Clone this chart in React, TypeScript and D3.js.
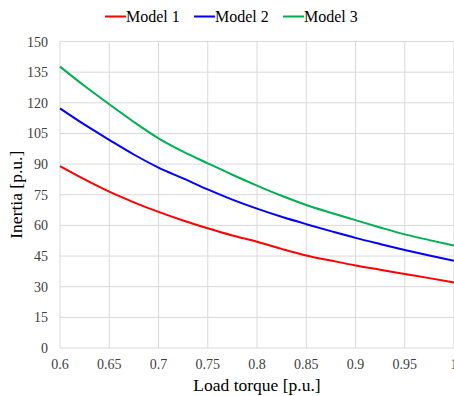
import React, { useEffect, useRef } from "react";
import * as d3 from "d3";

// Data
const loadTorque = [
    0.6, 0.625, 0.65, 0.675, 0.7, 0.725, 0.75, 0.775, 0.8,
    0.825, 0.85, 0.875, 0.9, 0.925, 0.95, 0.975, 1.0,
];
const model1 = [89, 82.5, 76.5, 71.3, 66.6, 62.4, 58.6, 55.1, 52, 48.5, 45.3, 42.8, 40.4, 38.3, 36.2, 34.2, 32.1];
const model2 = [117.3, 109.3, 101.9, 94.7, 88.3, 83, 77.6, 72.6, 68.2, 64.2, 60.6, 57.2, 53.9, 50.9, 48, 45.3, 42.7];
const model3 = [137.7, 128.2, 119.3, 110.6, 102.6, 96.1, 90.4, 84.8, 79.5, 74.5, 70, 66.2, 62.6, 59, 55.6, 52.8, 50.1];

const seriesNames = ["Model 1", "Model 2", "Model 3"];
const seriesColors = ["#ff0000", "#0000ff", "#00b050"];
const xTicks = [0.6, 0.65, 0.7, 0.75, 0.8, 0.85, 0.9, 0.95, 1];
const yTicks = [0, 15, 30, 45, 60, 75, 90, 105, 120, 135, 150];

const width = 454;
const height = 396;
const font = "Liberation Serif, DejaVu Serif, serif";

export default function App() {
    const svgRef = useRef<SVGSVGElement | null>(null);

    useEffect(() => {
        const margin = { top: 41.5, right: 0, bottom: 48, left: 60 };
        const svg = d3.select(svgRef.current);
        svg.selectAll("*").remove();

        const x = d3.scaleLinear().domain([0.6, 1]).range([margin.left, width - margin.right]);
        const y = d3.scaleLinear().domain([0, 150]).range([height - margin.bottom, margin.top]);

        // grid
        const grid = svg.append("g");
        grid.selectAll("line.v")
            .data(xTicks)
            .join("line")
            .attr("x1", (d) => x(d))
            .attr("x2", (d) => x(d))
            .attr("y1", y(0))
            .attr("y2", y(150))
            .attr("stroke", "#d9d9d9")
            .attr("stroke-width", 1);
        grid.selectAll("line.h")
            .data(yTicks)
            .join("line")
            .attr("x1", x(0.6))
            .attr("x2", x(1))
            .attr("y1", (d) => y(d))
            .attr("y2", (d) => y(d))
            .attr("stroke", "#d9d9d9")
            .attr("stroke-width", 1);

        // tick labels
        svg.append("g")
            .selectAll("text")
            .data(xTicks)
            .join("text")
            .attr("x", (d) => x(d))
            .attr("y", 369)
            .attr("text-anchor", "middle")
            .style("font-family", font)
            .style("font-size", "14px")
            .attr("fill", "#404040")
            .text((d) => String(d));

        svg.append("g")
            .selectAll("text")
            .data(yTicks)
            .join("text")
            .attr("x", 48)
            .attr("y", (d) => y(d) + 5)
            .attr("text-anchor", "end")
            .style("font-family", font)
            .style("font-size", "14px")
            .attr("fill", "#404040")
            .text((d) => String(d));

        // axis titles
        svg.append("text")
            .attr("x", (x(0.6) + x(1)) / 2)
            .attr("y", 391)
            .attr("text-anchor", "middle")
            .style("font-family", font)
            .style("font-size", "17.5px")
            .attr("fill", "#000")
            .text("Load torque [p.u.]");

        svg.append("text")
            .attr("transform", `translate(22,${(y(0) + y(150)) / 2}) rotate(-90)`)
            .attr("text-anchor", "middle")
            .style("font-family", font)
            .style("font-size", "17.5px")
            .attr("fill", "#000")
            .text("Inertia [p.u.]");

        // lines
        const allSeries = [model1, model2, model3];
        const line = d3.line<number>()
            .x((_, i) => x(loadTorque[i]))
            .y((d) => y(d))
            .curve(d3.curveMonotoneX);

        allSeries.forEach((s, i) => {
            svg.append("path")
                .datum(s)
                .attr("fill", "none")
                .attr("stroke", seriesColors[i])
                .attr("stroke-width", 2)
                .attr("d", line);
        });

        // legend
        const legendX = [105, 194, 283];
        const legend = svg.append("g");
        seriesNames.forEach((name, i) => {
            legend.append("line")
                .attr("x1", legendX[i])
                .attr("x2", legendX[i] + 21)
                .attr("y1", 16.5)
                .attr("y2", 16.5)
                .attr("stroke", seriesColors[i])
                .attr("stroke-width", 2);
            legend.append("text")
                .attr("x", legendX[i] + 21)
                .attr("y", 22)
                .style("font-family", font)
                .style("font-size", "16px")
                .attr("fill", "#000")
                .text(name);
        });
    }, []);

    return (
        <svg
            ref={svgRef}
            width={width}
            height={height}
            style={{ position: "absolute", left: 0, top: 0, background: "#fff" }}
        />
    );
}
